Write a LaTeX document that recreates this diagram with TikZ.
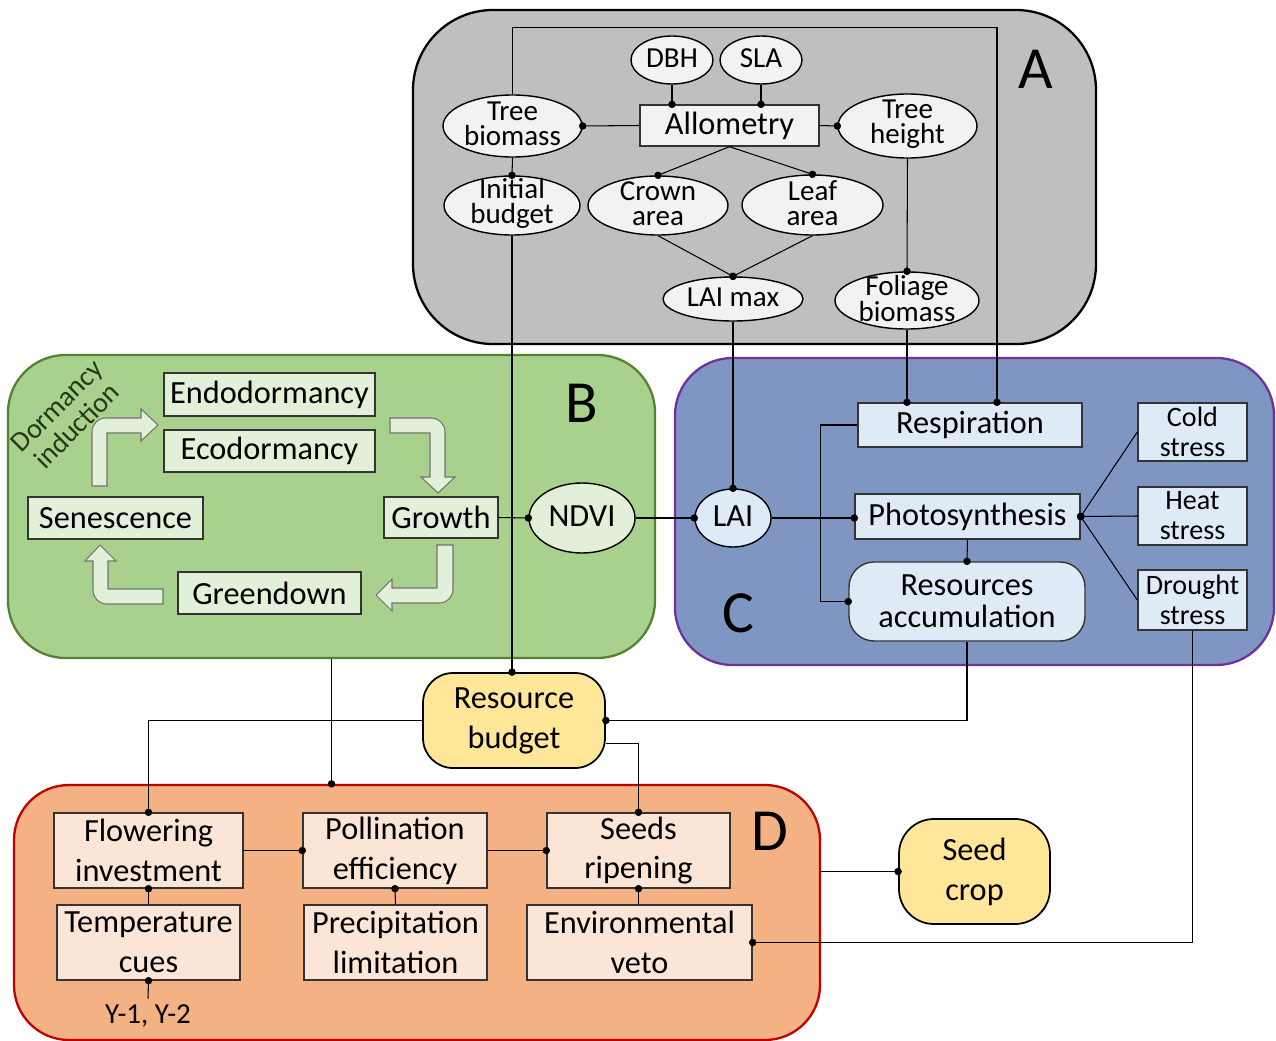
\documentclass[tikz,border=0pt]{standalone}
\usepackage{fontspec}
\setmainfont{Carlito}
\usetikzlibrary{arrows.meta, shapes.geometric}

\definecolor{panelA}{RGB}{191,191,191}
\definecolor{panelB}{RGB}{169,209,142}
\definecolor{borderB}{RGB}{84,130,53}
\definecolor{panelC}{RGB}{127,150,194}
\definecolor{borderC}{RGB}{112,48,160}
\definecolor{panelD}{RGB}{244,177,131}
\definecolor{borderD}{RGB}{192,0,0}
\definecolor{fillA}{RGB}{242,242,242}
\definecolor{fillB}{RGB}{226,240,217}
\definecolor{fillC}{RGB}{222,235,247}
\definecolor{fillD}{RGB}{251,229,214}
\definecolor{budget}{RGB}{255,230,153}
\definecolor{dormtext}{RGB}{36,58,22}

\tikzset{
    sz/.style 2 args={minimum width=#1*0.02cm, minimum height=#2*0.02cm},
    panel/.style={draw, line width=1.3pt, inner sep=0pt},
    paneltag/.style={font=\fontsize{34}{34}\selectfont, inner sep=0pt},
    ell/.style={ellipse, draw=black, fill=fillA, line width=0.8pt, inner sep=0pt},
    elltxt/.style={font=\fontsize{16.5}{14.5}\selectfont, align=center, inner sep=0pt, yshift=0.04cm},
    box/.style={rectangle, draw=black!80, line width=0.8pt, inner sep=0pt, align=center,
                font=\fontsize{18.4}{22.7}\selectfont},
    smallbox/.style={box, font=\fontsize{16}{17}\selectfont},
    pill/.style={box, draw=black, line width=1pt},
    cyclearrow/.style={fill=fillB, draw=black!55, line width=0.6pt},
    link/.style={line width=0.6pt, -{Circle[length=4.2pt]}, shorten >=-2.1pt},
}

\begin{document}
\begin{tikzpicture}[x=0.02cm, y=-0.02cm]
    \useasboundingbox (0,0) rectangle (1276,1041);

    % panels
    \node[panel, draw=black,   fill=panelA, rounded corners=1.6cm,  sz={683}{334}] (PanelA) at (754.5, 177)   {};
    \node[panel, draw=borderB, fill=panelB, rounded corners=1.15cm, sz={647}{303}] (PanelB) at (331.5, 506.5) {};
    \node[panel, draw=borderC, fill=panelC, rounded corners=1.15cm, sz={599}{307}] (PanelC) at (974.5, 511.5) {};
    \node[panel, draw=borderD, fill=panelD, rounded corners=1.1cm,  sz={806}{255}] (PanelD) at (417, 912.5)   {};

    \node[paneltag] (TagA) at (1036, 69)  {A};
    \node[paneltag] (TagB) at (582, 403.5) {B};
    \node[paneltag] (TagC) at (738, 613)  {C};
    \node[paneltag] (TagD) at (770, 831)  {D};

    % A: allometry
    \node[ell, sz={82}{48},  label={[elltxt]center:DBH}]              (DBH)            at (672, 60)    {};
    \node[ell, sz={82}{48},  label={[elltxt]center:SLA}]              (SLA)            at (761, 60)    {};
    \node[box, fill=fillA, sz={179}{41}]                               (Allometry)      at (729.5, 125.5) {Allometry};
    \node[ell, sz={139}{62}, label={[elltxt]center:Tree\\biomass}]    (TreeBiomass)    at (512.5, 126) {};
    \node[ell, sz={139}{64}, label={[elltxt]center:Tree\\height}]     (TreeHeight)     at (907.5, 126) {};
    \node[ell, sz={136}{59}, label={[elltxt]center:Initial\\budget}]  (InitialBudget)  at (512, 205.5) {};
    \node[ell, sz={140}{59}, label={[elltxt]center:Crown\\area}]      (CrownArea)      at (658, 205.5) {};
    \node[ell, sz={141}{60}, label={[elltxt]center:Leaf\\area}]       (LeafArea)       at (812.5, 205) {};
    \node[ell, sz={140}{44}, label={[elltxt]center:LAI max}]          (LAImax)         at (733, 299)   {};
    \node[ell, sz={144}{57}, label={[elltxt]center:Foliage\\biomass}] (FoliageBiomass) at (907, 300.5) {};

    % B: phenology
    \node[box, fill=fillB, sz={211}{43}] (Endodormancy) at (269.5, 394.5) {Endodormancy};
    \node[box, fill=fillB, sz={211}{42}] (Ecodormancy)  at (269.5, 451)   {Ecodormancy};
    \node[box, fill=fillB, sz={175}{42}] (Senescence)   at (115.5, 518)   {Senescence};
    \node[box, fill=fillB, sz={114}{41}] (Growth)       at (441, 517.5)   {Growth};
    \node[box, fill=fillB, sz={183}{42}] (Greendown)    at (269.5, 593)   {Greendown};
    \node[ell, fill=fillB, sz={106}{70}, label={[elltxt, font=\fontsize{18.4}{20}\selectfont]center:NDVI}] (NDVI) at (582, 518) {};
    \node[rotate=45, text=dormtext, align=center, font=\fontsize{16}{16}\selectfont] (DormancyInduction) at (67, 416) {Dormancy\\induction};

    \draw[cyclearrow] (92,486) -- (92,432) .. controls (92,424) and (98,418) .. (106,418) -- (141,418) -- (141,409)
        -- (158,425) -- (141,441) -- (141,433) -- (107,433) -- (107,486) -- cycle;
    \draw[cyclearrow] (390,418) -- (431,418) .. controls (439,418) and (445,424) .. (445,432) -- (445,477) -- (455,477)
        -- (438,493) -- (421,477) -- (430,477) -- (430,433) -- (390,433) -- cycle;
    \draw[cyclearrow] (437,545) -- (453,545) -- (453,589) .. controls (453,597) and (447,603) .. (439,603) -- (392,603)
        -- (392,611) -- (376,595) -- (392,579) -- (392,588) -- (437,588) -- cycle;
    \draw[cyclearrow] (163,589) -- (163,604) -- (107,604) .. controls (99,604) and (93,598) .. (93,590) -- (93,561)
        -- (85,561) -- (100,545) -- (116,561) -- (108,561) -- (108,589) -- cycle;

    % C: carbon balance
    \node[ell, fill=fillC, sz={76}{58}, label={[elltxt, font=\fontsize{18.4}{20}\selectfont]center:LAI}] (LAI) at (733, 518) {};
    \node[box, fill=fillC, sz={224}{44}] (Respiration)    at (970, 425)     {Respiration};
    \node[box, fill=fillC, sz={225}{45}] (Photosynthesis) at (967.5, 516.5) {Photosynthesis};
    \node[box, fill=fillC, sz={236}{79}, rounded corners=0.5cm, font=\fontsize{18.4}{18}\selectfont] (ResourcesAcc) at (967, 601.5) {Resources\\accumulation};
    \node[smallbox, fill=fillC, sz={109}{58}] (ColdStress)    at (1192.5, 432) {Cold\\stress};
    \node[smallbox, fill=fillC, sz={109}{58}] (HeatStress)    at (1192.5, 516) {Heat\\stress};
    \node[smallbox, fill=fillC, sz={109}{60}] (DroughtStress) at (1192.5, 600) {Drought\\stress};

    % budget and crop
    \node[pill, fill=budget, sz={182}{95},  rounded corners=0.6cm] (ResourceBudget) at (514, 720.5)   {Resource\\budget};
    \node[pill, fill=budget, sz={151}{105}, rounded corners=0.7cm] (SeedCrop)       at (974.5, 871.5) {Seed\\crop};

    % D: reproduction
    \node[box, fill=fillD, sz={189}{75}] (Flowering)   at (148.5, 850.5) {Flowering\\investment};
    \node[box, fill=fillD, sz={184}{75}] (Pollination) at (395, 850.5)   {Pollination\\efficiency};
    \node[box, fill=fillD, sz={183}{75}] (Seeds)       at (638.5, 850.5) {Seeds\\ripening};
    \node[box, fill=fillD, sz={183}{75}] (TempCues)    at (148.5, 942.5) {Temperature\\cues};
    \node[box, fill=fillD, sz={183}{75}] (Precip)      at (395.5, 942.5) {Precipitation\\limitation};
    \node[box, fill=fillD, sz={225}{75}] (EnvVeto)     at (639.5, 942.5) {Environmental\\veto};
    \node[font=\fontsize{16.5}{20}\selectfont] (PrevYears) at (148, 1016) {Y-1, Y-2};

    % links inside A
    \draw[link] (DBH.south) -- (DBH.south |- Allometry.north);
    \draw[link] (SLA.south) -- (SLA.south |- Allometry.north);
    \draw[link] (Allometry.west) -- (TreeBiomass.east);
    \draw[link] (Allometry.east) -- (TreeHeight.west);
    \draw[link] (Allometry.south) -- (CrownArea.north);
    \draw[link] (Allometry.south) -- (LeafArea.north);
    \draw[link] (CrownArea.south) -- (LAImax.north);
    \draw[link] (LeafArea.south) -- (LAImax.north);
    \draw[link] (TreeBiomass.south) -- (InitialBudget.north);
    \draw[link] (TreeHeight.south) -- (FoliageBiomass.north);

    % A to B, C
    \draw[link] (TreeBiomass.north) -- ++(0,-67) -| ([xshift=0.54cm]Respiration.north);
    \draw[link] (FoliageBiomass.south) -- (FoliageBiomass.south |- Respiration.north);
    \draw[link] (LAImax.south) -- (LAI.north);
    \draw[link] (InitialBudget.south) -- (InitialBudget.south |- ResourceBudget.north);

    % B to C
    \draw[link] (Growth.east) -- (NDVI.west);
    \draw[link] (NDVI.east) -- (LAI.west);

    % inside C
    \draw[link] (LAI.east) -- (LAI.east -| Photosynthesis.west);
    \draw[link] (Respiration.west) -- ++(-37,0) |- (ResourcesAcc.west);
    \draw[link] (Photosynthesis.south) -- (ResourcesAcc.north);
    \draw[link] (ColdStress.west) -- (Photosynthesis.east);
    \draw[link] (HeatStress.west) -- (Photosynthesis.east);
    \draw[link] (DroughtStress.west) -- (Photosynthesis.east);

    % C to budget and D
    \draw[link] (ResourcesAcc.south) |- (ResourceBudget.east);
    \draw[link] (DroughtStress.south) |- (EnvVeto.east);

    % budget to D
    \draw[link] (ResourceBudget.west) -| (Flowering.north);
    \draw[link] ([yshift=-0.46cm]ResourceBudget.east) -| (Seeds.north);
    \draw[link] (PanelB.south) -- (PanelB.south |- PanelD.north);
    \draw[link] (SeedCrop.west -| PanelD.east) -- (SeedCrop.west);

    % inside D
    \draw[link] (Flowering.east) -- (Pollination.west);
    \draw[link] (Pollination.east) -- (Seeds.west);
    \draw[link] (TempCues.north) -- (Flowering.south);
    \draw[link] (Precip.north) -- (Pollination.south);
    \draw[link] (Seeds.south |- EnvVeto.north) -- (Seeds.south);
    \draw[link] (PrevYears.north) -- (TempCues.south);
\end{tikzpicture}
\end{document}
